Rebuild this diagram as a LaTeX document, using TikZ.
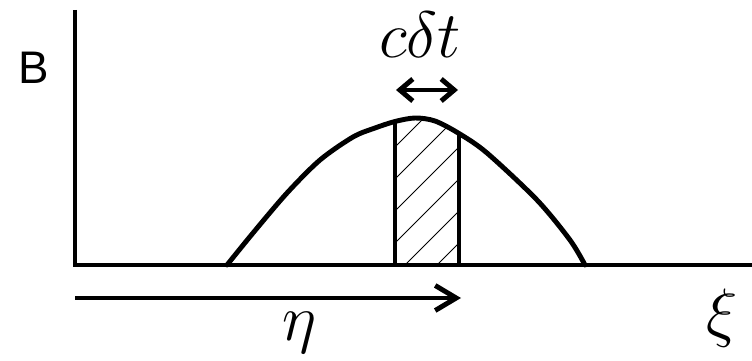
\documentclass[tikz,border=0pt]{standalone}
\usepackage{fontspec}
\newfontfamily\labelfont{Liberation Sans}
\usetikzlibrary{arrows.meta}

\begin{document}
\begin{tikzpicture}[
  axis/.style={line width=2.8pt, line join=miter},
  bell/.style={line width=2.8pt, line cap=round},
  strip edge/.style={line width=2.8pt},
  hatch/.style={line width=0.6pt},
  eta arrow/.style={line width=2.8pt, -{Straight Barb[length=0.42cm, width=0.5cm, line width=2.8pt]}},
  width arrow/.style={line width=2.8pt, {Straight Barb[length=0.26cm, width=0.44cm, line width=2.8pt]}-{Straight Barb[length=0.26cm, width=0.44cm, line width=2.8pt]}},
  mathlabel/.style={font=\Huge, scale=1.5, inner sep=0pt},
  axislabel/.style={font=\labelfont, scale=2.6, inner sep=0pt}
]
  \useasboundingbox (0,0) rectangle (15.04,7.22);

  % Axes: vertical field axis and the xi axis along the bottom
  \coordinate (ytop) at (1.50,7.02);
  \coordinate (O) at (1.50,1.92);
  \coordinate (xend) at (15.04,1.92);
  \draw[axis] (ytop) -- (O) -- (xend);

  % Hatched slice of width c delta t, clipped under the pulse
  \begin{scope}
    \clip (7.90,1.92) rectangle (9.18,6);
    \clip plot[smooth] coordinates {(4.54,1.92) (5.06,2.56) (5.74,3.36) (6.40,4.02)
      (7.06,4.48) (7.50,4.66) (7.90,4.79) (8.30,4.86) (8.70,4.80) (9.18,4.55)
      (9.74,4.16) (10.74,3.22) (11.40,2.42) (11.70,1.92)} -- cycle;
    \foreach \k [evaluate=\k as \hx using 8.74+0.64*\k] in {-6,...,0}
      \draw[hatch] (\hx,1.92) -- ++(3.5,3.5);
  \end{scope}

  % Edges of the slice
  \coordinate (sl) at (7.90,1.92);
  \coordinate (sltop) at (7.90,4.79);
  \coordinate (sr) at (9.18,1.92);
  \coordinate (srtop) at (9.18,4.55);
  \draw[strip edge] (sl) -- (sltop);
  \draw[strip edge] (sr) -- (srtop);

  % The pulse profile
  \draw[bell] plot[smooth] coordinates {(4.54,1.92) (5.06,2.56) (5.74,3.36) (6.40,4.02)
      (7.06,4.48) (7.50,4.66) (7.90,4.79) (8.30,4.86) (8.70,4.80) (9.18,4.55)
      (9.74,4.16) (10.74,3.22) (11.40,2.42) (11.70,1.92)};

  % Width arrow and its label
  \coordinate (wl) at (7.92,5.42);
  \coordinate (wr) at (9.16,5.42);
  \draw[width arrow] (wl) -- (wr);
  \node[mathlabel] (cdt) at (8.40,6.52) {$c\delta t$};

  % Shift arrow eta
  \coordinate (etastart) at (1.50,1.26);
  \coordinate (etaend) at (9.22,1.26);
  \draw[eta arrow] (etastart) -- (etaend);
  \node[mathlabel] (eta) at (6.00,0.56) {$\eta$};

  % Axis labels
  \node[mathlabel] (xi) at (14.44,0.86) {$\xi$};
  \node[axislabel] (B) at (0.67,5.86) {B};

\end{tikzpicture}
\end{document}
